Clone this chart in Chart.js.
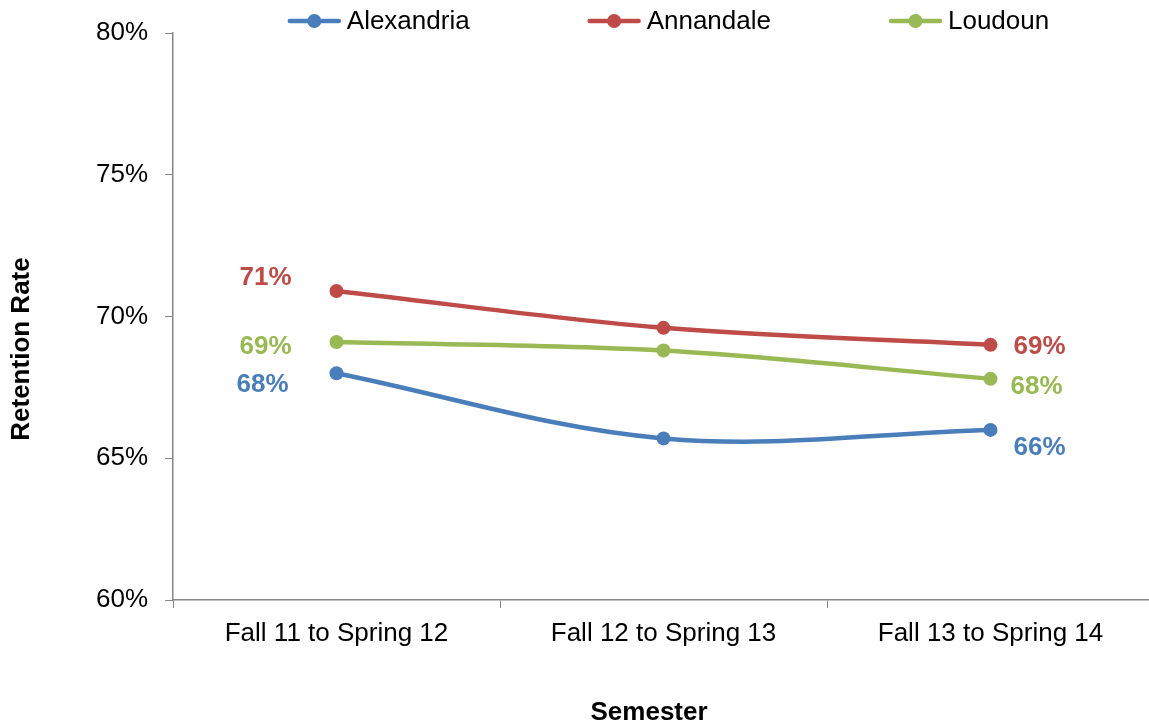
<!DOCTYPE html>
<html>
<head>
<meta charset="utf-8">
<script src="https://cdn.jsdelivr.net/npm/chart.js@4.4.0/dist/chart.umd.min.js"></script>
<style>
  html, body { margin: 0; padding: 0; background: #fff; overflow: hidden; }
  /* wider than the window: Chart.js keeps a point-radius gap on the right */
  #wrap { width: 1161px; height: 728px; }
</style>
</head>
<body>
<div id="wrap"><canvas id="retentionChart"></canvas></div>
<script>
// data
const semesters = ["Fall 11 to Spring 12", "Fall 12 to Spring 13", "Fall 13 to Spring 14"];
const campuses = ["Alexandria", "Annandale", "Loudoun"];
const alexandriaRates = [68.0, 65.7, 66.0];
const annandaleRates = [70.9, 69.6, 69.0];
const loudounRates = [69.1, 68.8, 67.8];
const yMin = 60, yMax = 80, yStep = 5;

// colours + label placement (dx, dy from the point) for first / last point
const lineColors = ["#4A7EBB", "#BE4B48", "#98B954"];
const labelOffsets = [
    [[-74, 12], [49, 18]],
    [[-71, -13], [49, 2]],
    [[-71, 5], [46, 8]]
];

Chart.defaults.font.family = "'Liberation Sans', Arial, sans-serif";
Chart.defaults.font.size = 26;
Chart.defaults.color = "#000";

const axisGrey = "#868686";

function makeDataset(label, values, color) {
    return {
        label: label,
        data: values,
        borderColor: color,
        backgroundColor: color,
        borderWidth: 4.5,
        pointRadius: 7,
        pointHoverRadius: 7,
        pointBorderWidth: 0,
        tension: 0.35,
        fill: false
    };
}

// end-point value labels
const endLabels = {
    id: "endLabels",
    afterDatasetsDraw(chart) {
        const ctx = chart.ctx;
        ctx.save();
        ctx.font = "bold 26px 'Liberation Sans', Arial, sans-serif";
        ctx.textAlign = "center";
        ctx.textBaseline = "middle";
        chart.data.datasets.forEach((ds, i) => {
            const meta = chart.getDatasetMeta(i);
            const last = ds.data.length - 1;
            [0, last].forEach((idx, k) => {
                const pt = meta.data[idx];
                const off = labelOffsets[i][k];
                ctx.fillStyle = ds.borderColor;
                ctx.fillText(Math.round(ds.data[idx]) + "%", pt.x + off[0], pt.y + off[1]);
            });
        });
        ctx.restore();
    }
};

// legend drawn over the top of the plot, line + dot marker
const topLegend = {
    id: "topLegend",
    afterDraw(chart) {
        const ctx = chart.ctx;
        const markerW = 53, gap = 6, spacing = 118, y = 21;
        ctx.save();
        ctx.font = "26px 'Liberation Sans', Arial, sans-serif";
        ctx.textBaseline = "middle";
        ctx.textAlign = "left";
        const items = chart.data.datasets.map(ds => ({
            label: ds.label, color: ds.borderColor, w: ctx.measureText(ds.label).width
        }));
        let total = 0;
        items.forEach((it, i) => { total += markerW + gap + it.w + (i ? spacing : 0); });
        let x = (chart.chartArea.left + chart.chartArea.right) / 2 - total / 2 + 5;
        items.forEach(it => {
            ctx.strokeStyle = it.color;
            ctx.lineWidth = 4.5;
            ctx.lineCap = "round";
            ctx.beginPath();
            ctx.moveTo(x + 2, y);
            ctx.lineTo(x + markerW - 2, y);
            ctx.stroke();
            ctx.fillStyle = it.color;
            ctx.beginPath();
            ctx.arc(x + markerW / 2, y, 7, 0, Math.PI * 2);
            ctx.fill();
            ctx.fillStyle = "#000";
            ctx.fillText(it.label, x + markerW + gap, y + 1);
            x += markerW + gap + it.w + spacing;
        });
        ctx.restore();
    }
};

new Chart(document.getElementById("retentionChart"), {
    type: "line",
    data: {
        labels: semesters,
        datasets: [
            makeDataset(campuses[0], alexandriaRates, lineColors[0]),
            makeDataset(campuses[1], annandaleRates, lineColors[1]),
            makeDataset(campuses[2], loudounRates, lineColors[2])
        ]
    },
    options: {
        responsive: true,
        maintainAspectRatio: false,
        animation: false,
        layout: { padding: { top: 33, right: 0, bottom: 0, left: 0 } },
        plugins: {
            legend: { display: false },
            tooltip: { enabled: false }
        },
        scales: {
            x: {
                offset: true,
                afterFit(scale) { scale.height = 128; },
                border: { color: axisGrey, width: 1.5 },
                grid: { drawOnChartArea: false, drawTicks: true, tickLength: 8, color: axisGrey, offset: true },
                ticks: { padding: 10, maxRotation: 0 },
                title: {
                    display: true,
                    text: "Semester    ",
                    font: { weight: "bold", size: 26 },
                    padding: { top: 0, bottom: 0 }
                }
            },
            y: {
                min: yMin,
                max: yMax,
                afterFit(scale) { scale.width = 173; },
                border: { color: axisGrey, width: 1.5 },
                grid: { drawOnChartArea: false, drawTicks: true, tickLength: 8, color: axisGrey },
                ticks: {
                    stepSize: yStep,
                    padding: 17,
                    callback: v => v + "%"
                },
                title: {
                    display: true,
                    text: "Retention Rate         ",
                    font: { weight: "bold", size: 26 },
                    padding: { top: 6, bottom: 0 }
                }
            }
        }
    },
    plugins: [endLabels, topLegend]
});
</script>
</body>
</html>
